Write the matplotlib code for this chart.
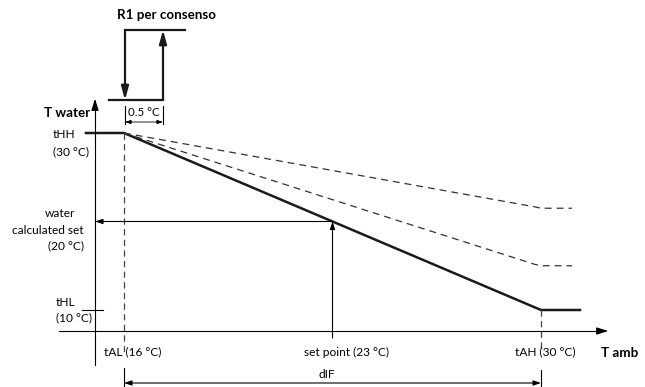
import matplotlib
matplotlib.use("Agg")
import matplotlib.pyplot as plt

plt.rcParams['font.family'] = ['Lato', 'DejaVu Sans']

# ---- data (°C) ----
tAL, tAH = 16, 30            # ambient limits
t_set = 23                   # ambient set point
tHH, tHL = 30, 10            # water limits
water_set = 20               # calculated water set
dashed_ends = [21.5, 15]     # alternative curves at tAH
hyst = 0.5                   # R1 hysteresis
x_labels = ["tAL (16 °C)", "set point (23 °C)", "tAH (30 °C)"]
y_labels = ["tHH\n(30 °C)", "tHL\n(10 °C)"]

W, H = 645, 387
fig = plt.figure(figsize=(W / 100, H / 100), dpi=100)
ax = fig.add_axes([0, 0, 1, 1])
ax.axis('off')

# pixel scale of the schematic
sx = (541 - 124) / (tAH - tAL)
sy = (310 - 133) / (tHH - tHL)
ax.set_xlim(tAL - 124 / sx, tAL + (W - 124) / sx)
ax.set_ylim(tHH - (H - 133) / sy, tHH + 133 / sy)

def X(p):  # pixel x -> data
    return tAL + (p - 124) / sx

def Y(p):  # pixel y (from top) -> data
    return tHH - (p - 133) / sy

k = 'black'
thin = 0.8

# axes with arrows
ax.plot([X(95), X(95)], [Y(365), Y(105)], color=k, lw=thin)
ax.annotate('', xy=(X(95), Y(96)), xytext=(X(95), Y(108)),
            arrowprops=dict(arrowstyle='-|>,head_length=0.7,head_width=0.22', color=k, lw=thin))
ax.plot([X(59), X(600)], [Y(331), Y(331)], color=k, lw=thin)
ax.annotate('', xy=(X(611), Y(331)), xytext=(X(598), Y(331)),
            arrowprops=dict(arrowstyle='-|>,head_length=0.7,head_width=0.22', color=k, lw=thin))

# main curve
ax.plot([X(86), tAL, tAH, X(580)], [tHH, tHH, tHL, tHL], color='#1a1a1a', lw=1.8,
        solid_joinstyle='miter')
# alternative dashed curves
for e in dashed_ends:
    ax.plot([tAL, tAH - 0.2, tAH, X(572)], [tHH, e + 0.15, e, e], color='#333333', lw=0.9,
            dashes=(5.5, 4))

# tHL tick
ax.plot([X(82), X(103)], [tHL, tHL], color=k, lw=thin)

# vertical dashed guides
ax.plot([tAL, tAL], [tHH, Y(354)], color='#444444', lw=0.9, dashes=(5, 3.5))
ax.plot([tAH, tAH], [tHL, Y(348)], color='#444444', lw=0.9, dashes=(5, 3.5))

# set point construction
ap = dict(arrowstyle='-|>,head_length=0.45,head_width=0.15', color=k, lw=thin,
          shrinkA=0, shrinkB=0)
ax.annotate('', xy=(t_set, water_set), xytext=(t_set, Y(338)), arrowprops=ap)
ax.annotate('', xy=(X(95), water_set), xytext=(t_set, water_set), arrowprops=ap)

# dIF dimension
ax.plot([tAL, tAL], [Y(368), Y(387)], color=k, lw=thin)
ax.plot([tAH, tAH], [Y(370), Y(387)], color=k, lw=thin)
ax.annotate('', xy=(tAL, Y(383)), xytext=(tAH, Y(383)),
            arrowprops=dict(arrowstyle='<|-|>,head_length=0.45,head_width=0.15', color=k,
                            lw=thin, shrinkA=0, shrinkB=0))

# ---- R1 hysteresis inset ----
hx = fig.add_axes([100 / W, 1 - 130 / H, 90 / W, 105 / H])
hx.axis('off')
hs = (163 - 125) / hyst
hx.set_xlim(-25 / hs, 65 / hs)
hx.set_ylim(-30 / 70, 75 / 70)
hx.plot([0, 60 / hs], [1, 1], color='#1a1a1a', lw=1.6)
hx.plot([-16 / hs, hyst], [0, 0], color='#1a1a1a', lw=1.6)
hp = dict(arrowstyle='-|>,head_length=0.8,head_width=0.22', color='#1a1a1a', lw=1.6,
          shrinkA=0, shrinkB=0)
hx.annotate('', xy=(0, 0), xytext=(0, 1), arrowprops=hp)
hx.annotate('', xy=(hyst, 1), xytext=(hyst, 0), arrowprops=hp)
hx.plot([0, 0], [-6 / 70, -24 / 70], color=k, lw=thin)
hx.plot([hyst, hyst], [-6 / 70, -24 / 70], color=k, lw=thin)
hx.annotate('', xy=(0, -22 / 70), xytext=(hyst, -22 / 70),
            arrowprops=dict(arrowstyle='<|-|>,head_length=0.35,head_width=0.12', color=k,
                            lw=0.6, shrinkA=0, shrinkB=0))
hx.text(hyst / 2, -12 / 70, "0.5 °C", ha='center', va='center', fontsize=8.3)

# ---- texts ----
fs = 8.6
bfs = 9.6
def T(px_x, px_y, s, **kw):
    fig.text(px_x / W, 1 - px_y / H, s, fontsize=kw.pop('fontsize', fs), va='center', **kw)

T(166, 15, "R1 per consenso", ha='center', fontweight='bold', fontsize=bfs)
T(90, 113, "T water", ha='right', fontweight='bold', fontsize=bfs)
T(53, 135, "tHH", ha='left')
T(53, 152, "(30 °C)", ha='left')
T(75, 214, "water", ha='right')
T(84, 231, "calculated set", ha='right')
T(84, 246, "(20 °C)", ha='right')
T(56, 303, "tHL", ha='left')
T(56, 318, "(10 °C)", ha='left')
T(133, 352, x_labels[0], ha='center')
T(347, 352, x_labels[1], ha='center')
T(545, 352, x_labels[2], ha='center')
T(620, 353, "T amb", ha='center', fontweight='bold', fontsize=bfs)
T(327, 375, "dIF", ha='center')

fig.savefig("out.png", dpi=100)
